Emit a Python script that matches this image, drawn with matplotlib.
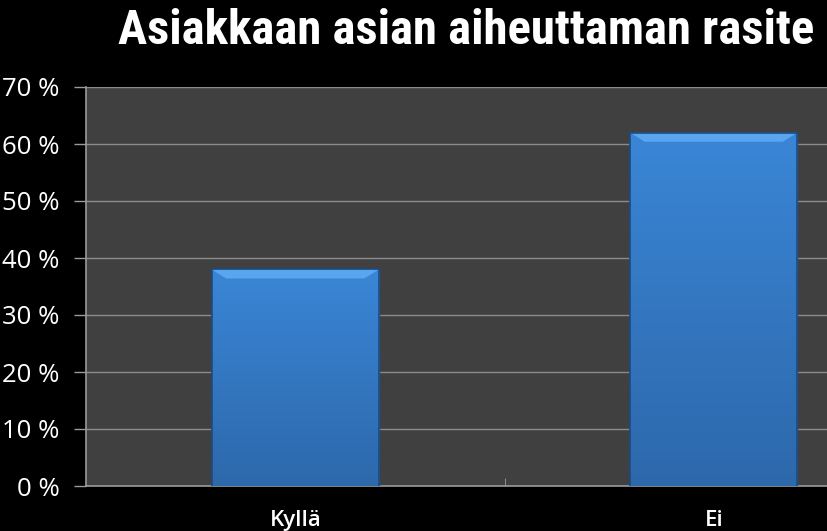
import matplotlib
matplotlib.use("Agg")
import matplotlib.pyplot as plt
import numpy as np
from matplotlib.colors import LinearSegmentedColormap
from matplotlib import font_manager

categories = ["Kyllä", "Ei"]
values = [38, 62]
yticks = [0, 10, 20, 30, 40, 50, 60, 70]
ytick_labels = ["0 %", "10 %", "20 %", "30 %", "40 %", "50 %", "60 %", "70 %"]
title = "Asiakkaan asian aiheuttaman rasite"

names = {f.name for f in font_manager.fontManager.ttflist}
title_font = "Open Sans"
for cand in ["Liberation Sans Narrow", "DejaVu Sans Condensed", "Roboto Condensed", "Open Sans Condensed"]:
    if cand in names:
        title_font = cand
        break

W, H = 827, 531
fig = plt.figure(figsize=(W / 100, H / 100), dpi=100, facecolor="black")
ax = fig.add_axes([86 / W, 1 - 486 / H, 837 / W, 399 / H])
ax.set_facecolor("#404040")

x = np.arange(len(categories))
bars = ax.bar(x, values, width=0.40, color="#3580d0", edgecolor="#1d4a80",
              linewidth=1.0, zorder=3)

cmap = LinearSegmentedColormap.from_list("g", ["#2d68ab", "#3a86d6"])
grad = np.linspace(0, 1, 256).reshape(-1, 1)
for b in bars:
    x0, y0 = b.get_x(), b.get_y()
    w, h = b.get_width(), b.get_height()
    im = ax.imshow(grad, extent=[x0, x0 + w, y0, y0 + h], origin="lower",
                   cmap=cmap, aspect="auto", zorder=3.5)
    im.set_clip_path(b)
    ax.fill([x0, x0 + w, x0 + w - 0.035, x0 + 0.035],
            [y0 + h, y0 + h, y0 + h - 1.6, y0 + h - 1.6],
            color="#5aa6ee", zorder=3.6, lw=0)
    ax.plot([x0, x0 + w], [y0 + h, y0 + h], color="#1d4a80", lw=1.2, zorder=3.7)
    ax.plot([x0, x0], [y0, y0 + h], color="#1d4a80", lw=1.2, zorder=3.7)
    ax.plot([x0 + w, x0 + w], [y0, y0 + h], color="#1d4a80", lw=1.2, zorder=3.7)

ax.set_xlim(-0.5, 1.5)
ax.set_ylim(0, 70)
ax.set_yticks(yticks)
ax.set_yticklabels(ytick_labels, color="white", fontsize=18.5, family="Open Sans")
ax.set_xticks(x)
ax.set_xticklabels(categories, color="white", fontsize=16, family="Open Sans",
                   fontweight="semibold")
ax.tick_params(axis="x", length=0, pad=17)
ax.tick_params(axis="y", length=9, color="#9a9a9a", pad=10, width=1)
ax.set_xticks([0.5], minor=True)
ax.tick_params(axis="x", which="minor", length=6, color="#9a9a9a", direction="in")
ax.yaxis.grid(True, color="#8c8c8c", lw=1, zorder=1)
ax.set_axisbelow(True)
for s in ["top", "right"]:
    ax.spines[s].set_visible(False)
for s in ["left", "bottom"]:
    ax.spines[s].set_color("#9a9a9a")
    ax.spines[s].set_linewidth(1.2)

t = fig.text(118 / W, 1 - 31 / H, title, color="white", fontsize=30,
             fontweight="bold", family=title_font, va="center", ha="left")
fig.canvas.draw()
bb = t.get_window_extent(fig.canvas.get_renderer())
t.set_fontsize(30 * 697 / bb.width)

fig.savefig("out.png", dpi=100, facecolor="black")
